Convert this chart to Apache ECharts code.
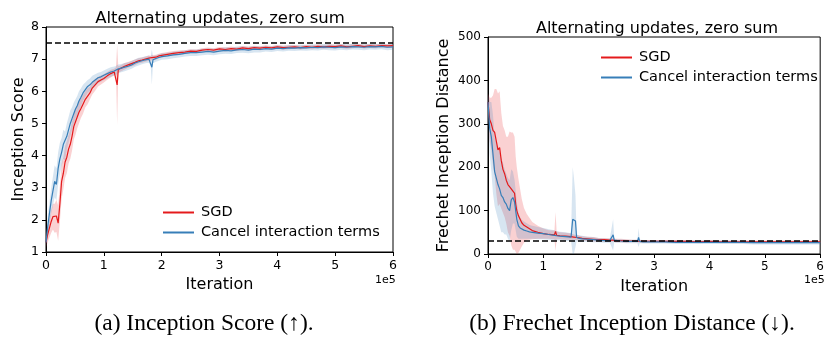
<!DOCTYPE html>
<html>
<head>
<meta charset="utf-8">
<script src="https://cdn.jsdelivr.net/npm/echarts@6/dist/echarts.min.js"></script>
<style>
html,body{margin:0;padding:0;background:#fff;}
#c{width:827px;height:339px;}
</style>
</head>
<body>
<div id="c"></div>
<script>
// ---------- Inception Score panel (x in thousands of iterations) ----------
var isX = [0,3,6,9,12,15,18,21,24,27,30,33,36,39,42,45,48,51,54,57,60,64,68,72,76,80,85,90,95,100,106,112,118,121,123,125,130,136,142,148,154,160,166,172,178,181,183,185,190,195,200,210,220,230,240,250,260,270,280,290,300,310,320,330,340,350,360,370,380,390,400,410,420,430,440,450,460,470,480,490,500,510,520,530,540,550,560,570,580,590,600];
var isSGD = [1.3,1.55,1.75,1.95,2.1,2.05,2.12,1.9,2.5,3.2,3.45,3.8,3.95,4.2,4.35,4.6,4.9,5.05,5.2,5.35,5.45,5.6,5.75,5.85,5.95,6.1,6.2,6.3,6.35,6.4,6.48,6.55,6.6,6.65,6.2,6.68,6.72,6.78,6.82,6.86,6.9,6.95,6.97,7.0,7.03,7.02,7.05,7.05,7.06,7.1,7.12,7.15,7.18,7.2,7.22,7.25,7.24,7.28,7.3,7.28,7.32,7.3,7.33,7.31,7.35,7.33,7.36,7.34,7.37,7.35,7.38,7.36,7.37,7.38,7.36,7.39,7.37,7.4,7.38,7.4,7.39,7.41,7.38,7.4,7.42,7.39,7.41,7.4,7.42,7.41,7.42];
var isSGDStd = [0.15,0.25,0.3,0.35,0.4,0.45,0.5,0.55,0.55,0.55,0.5,0.5,0.5,0.45,0.45,0.45,0.4,0.4,0.35,0.35,0.3,0.3,0.25,0.25,0.2,0.2,0.18,0.15,0.14,0.13,0.12,0.12,0.1,0.1,1.25,0.1,0.1,0.1,0.09,0.09,0.09,0.08,0.08,0.08,0.08,0.08,0.08,0.08,0.08,0.07,0.07,0.07,0.07,0.07,0.06,0.06,0.06,0.06,0.06,0.06,0.06,0.06,0.06,0.06,0.06,0.06,0.06,0.06,0.06,0.06,0.06,0.06,0.06,0.06,0.06,0.06,0.06,0.06,0.06,0.06,0.06,0.06,0.06,0.06,0.06,0.06,0.06,0.06,0.06,0.06,0.06];
var isCancel = [1.3,1.8,2.2,2.6,2.9,3.2,3.1,3.6,3.9,4.1,4.35,4.3,4.6,4.8,5.0,5.15,5.3,5.45,5.55,5.7,5.8,5.95,6.05,6.15,6.2,6.28,6.35,6.42,6.45,6.5,6.55,6.6,6.63,6.65,6.68,6.7,6.72,6.75,6.78,6.82,6.88,6.92,6.95,6.98,7.0,6.95,6.75,6.98,7.02,7.05,7.08,7.1,7.13,7.15,7.18,7.2,7.2,7.22,7.24,7.22,7.25,7.27,7.26,7.29,7.3,7.28,7.31,7.3,7.33,7.31,7.34,7.33,7.35,7.34,7.36,7.35,7.37,7.36,7.38,7.37,7.36,7.38,7.37,7.39,7.38,7.37,7.39,7.38,7.4,7.37,7.38];
var isCancelStd = [0.15,0.3,0.35,0.4,0.45,0.5,0.5,0.5,0.5,0.45,0.45,0.45,0.4,0.4,0.4,0.35,0.35,0.3,0.3,0.3,0.28,0.25,0.22,0.2,0.2,0.2,0.18,0.16,0.15,0.15,0.15,0.15,0.14,0.14,0.14,0.13,0.13,0.13,0.12,0.12,0.12,0.12,0.11,0.11,0.11,0.15,0.55,0.11,0.1,0.1,0.1,0.1,0.1,0.1,0.1,0.1,0.1,0.1,0.1,0.1,0.1,0.1,0.1,0.1,0.1,0.1,0.1,0.09,0.09,0.09,0.09,0.09,0.09,0.09,0.09,0.09,0.09,0.09,0.09,0.09,0.09,0.09,0.09,0.09,0.09,0.09,0.09,0.09,0.09,0.09,0.09];
var isRef = 7.5;

// ---------- FID panel ----------
var fidX = [0,3,6,9,12,15,18,21,24,27,30,33,36,39,42,45,48,50,52,55,58,61,65,70,75,80,90,100,110,120,122,124,130,140,150,153,155,158,160,162,165,170,180,190,200,210,220,226,228,230,240,250,260,270,272,274,280,290,300,320,340,360,380,400,420,440,460,480,500,520,540,560,580,600];
var fidSGD = [350,310,300,285,280,260,240,245,215,195,185,170,160,162,150,145,140,115,100,88,80,72,66,62,58,54,50,47,45,44,52,43,42,41,40,39,39,38,38,37,37,36,35,34,33,33,32,32,32,31,31,30,30,30,30,29,29,29,29,29,29,29,28,29,28,28,28,28,28,28,28,28,28,28];
var fidSGDStd = [20,50,60,80,100,120,130,130,110,100,100,100,110,120,130,135,130,110,100,85,70,55,40,30,25,20,15,12,10,10,45,9,8,8,7,7,6,6,6,6,5,5,5,5,4,4,4,4,4,4,4,4,3,3,3,3,3,3,3,3,3,3,3,3,3,3,3,3,3,3,3,3,3,3];
var fidCancel = [350,290,270,230,190,175,160,150,135,130,120,115,105,100,125,130,120,100,80,65,60,57,55,53,51,50,48,47,45,43,42,42,41,40,39,80,78,76,38,36,36,35,34,33,32,31,31,44,32,30,30,29,29,29,38,29,28,28,28,28,27,27,27,27,27,27,27,26,26,26,26,26,26,26];
var fidCancelStd = [20,60,80,90,80,80,80,85,85,80,75,70,70,70,70,60,50,45,40,30,25,22,20,18,16,15,14,13,12,12,11,11,10,10,9,120,100,60,8,8,7,7,6,6,5,5,5,36,5,4,4,4,4,4,22,4,4,4,4,4,4,4,4,4,4,4,4,4,4,4,4,4,4,4];
var fidRef = 30;

var xTicks = ['0','1','2','3','4','5','6'];
var seriesNames = ['SGD','Cancel interaction terms'];
var RED = '#e41a1c', BLUE = '#377eb8';

function pairs(x, y){ return x.map(function(v,i){ return [v, y[i]]; }); }

function band(name, gi, x, m, s, color){
  var hi = m.map(function(v,i){ return v + s[i]; });
  var lo = m.map(function(v,i){ return Math.max(0, v - s[i]); });
  return {
    type:'custom', name: name + ' band', xAxisIndex: gi, yAxisIndex: gi, clip:true, silent:true,
    data:[[x[0], m[0]]], z:1,
    renderItem: function(params, api){
      var pts = [];
      for (var i=0;i<x.length;i++) pts.push(api.coord([x[i], hi[i]]));
      for (var j=x.length-1;j>=0;j--) pts.push(api.coord([x[j], lo[j]]));
      return {type:'polygon', shape:{points:pts}, style:{fill:color, opacity:0.2}, silent:true};
    }
  };
}
function line(name, gi, x, y, color){
  return {type:'line', name:name, xAxisIndex:gi, yAxisIndex:gi, data:pairs(x,y), showSymbol:false, symbol:'none',
    lineStyle:{color:color, width:1.2}, itemStyle:{color:color}, z:3, animation:false};
}
function ref(gi, v){
  return {type:'line', xAxisIndex:gi, yAxisIndex:gi, data:[[0,v],[600,v]], showSymbol:false, symbol:'none',
    lineStyle:{color:'#000', width:1.5, type:[6,3]}, z:4, silent:true, animation:false};
}

var FONT = 'DejaVu Sans';
function xAxis(gi, fs){
  return {gridIndex:gi, type:'value', min:0, max:600, interval:100,
    axisLine:{show:true, onZero:false, lineStyle:{color:'#000', width:1}},
    axisTick:{show:true, length:4, lineStyle:{color:'#000'}},
    axisLabel:{fontFamily:FONT, fontSize:fs, color:'#000', margin:7,
      formatter:function(v){ return xTicks[Math.round(v/100)]; }},
    splitLine:{show:false},
    name:'Iteration', nameLocation:'middle', nameGap:25, nameTextStyle:{fontFamily:FONT, fontSize:16, color:'#000'}};
}
function yAxis(gi, min, max, interval, name, gap, fs){
  return {gridIndex:gi, type:'value', min:min, max:max, interval:interval,
    axisLine:{show:true, lineStyle:{color:'#000', width:1}},
    axisTick:{show:true, length:4, lineStyle:{color:'#000'}},
    axisLabel:{fontFamily:FONT, fontSize:fs, color:'#000', margin:7},
    splitLine:{show:false},
    name:name, nameLocation:'middle', nameGap:gap, nameTextStyle:{fontFamily:FONT, fontSize:16, color:'#000'}};
}

var chart = echarts.init(document.getElementById('c'), null, {renderer:'canvas'});
chart.setOption({
  animation:false,
  backgroundColor:'#fff',
  title:[
    {text:'Alternating updates, zero sum', left:215, top:5, textAlign:'center', textStyle:{fontFamily:FONT, fontSize:16.5, fontWeight:'normal', color:'#000'}},
    {text:'Alternating updates, zero sum', left:652, top:16, textAlign:'center', textStyle:{fontFamily:FONT, fontSize:16, fontWeight:'normal', color:'#000'}}
  ],
  grid:[
    {left:46, top:27, width:347, height:225, show:true, borderColor:'#000', borderWidth:1, backgroundColor:'transparent'},
    {left:488, top:37, width:334, height:217, show:true, borderColor:'#000', borderWidth:1, backgroundColor:'transparent'}
  ],
  xAxis:[xAxis(0,12.5), xAxis(1,12)],
  yAxis:[yAxis(0,1,8,1,'Inception Score',19,12.5), yAxis(1,0,500,100,'Frechet Inception Distance',36,12)],
  legend:[
    {data:seriesNames, orient:'vertical', left:158, top:200, itemWidth:31, itemHeight:2, itemGap:5, icon:'rect',
      textStyle:{fontFamily:FONT, fontSize:14.5, color:'#000', padding:[0,0,0,2]}, selectedMode:false},
    {data:seriesNames, orient:'vertical', left:596, top:45, itemWidth:31, itemHeight:2, itemGap:5, icon:'rect',
      textStyle:{fontFamily:FONT, fontSize:14.5, color:'#000', padding:[0,0,0,2]}, selectedMode:false}
  ],
  graphic:[
    {type:'text', left:375, top:275, style:{text:'1e5', font:'11px "DejaVu Sans"', fill:'#000'}},
    {type:'text', left:804, top:275, style:{text:'1e5', font:'11px "DejaVu Sans"', fill:'#000'}},
    {type:'text', x:204, y:324, style:{text:'(a) Inception Score (\u2191).', font:'23.5px "Liberation Serif"', fill:'#000', textAlign:'center', textVerticalAlign:'middle'}},
    {type:'text', x:632, y:324, style:{text:'(b) Frechet Inception Distance (\u2193).', font:'23.5px "Liberation Serif"', fill:'#000', textAlign:'center', textVerticalAlign:'middle'}}
  ],
  series:[
    band(seriesNames[0],0,isX,isSGD,isSGDStd,RED),
    band(seriesNames[1],0,isX,isCancel,isCancelStd,BLUE),
    line(seriesNames[0],0,isX,isSGD,RED),
    line(seriesNames[1],0,isX,isCancel,BLUE),
    ref(0,isRef),
    band(seriesNames[0],1,fidX,fidSGD,fidSGDStd,RED),
    band(seriesNames[1],1,fidX,fidCancel,fidCancelStd,BLUE),
    line(seriesNames[0],1,fidX,fidSGD,RED),
    line(seriesNames[1],1,fidX,fidCancel,BLUE),
    ref(1,fidRef)
  ]
});
</script>
</body>
</html>
